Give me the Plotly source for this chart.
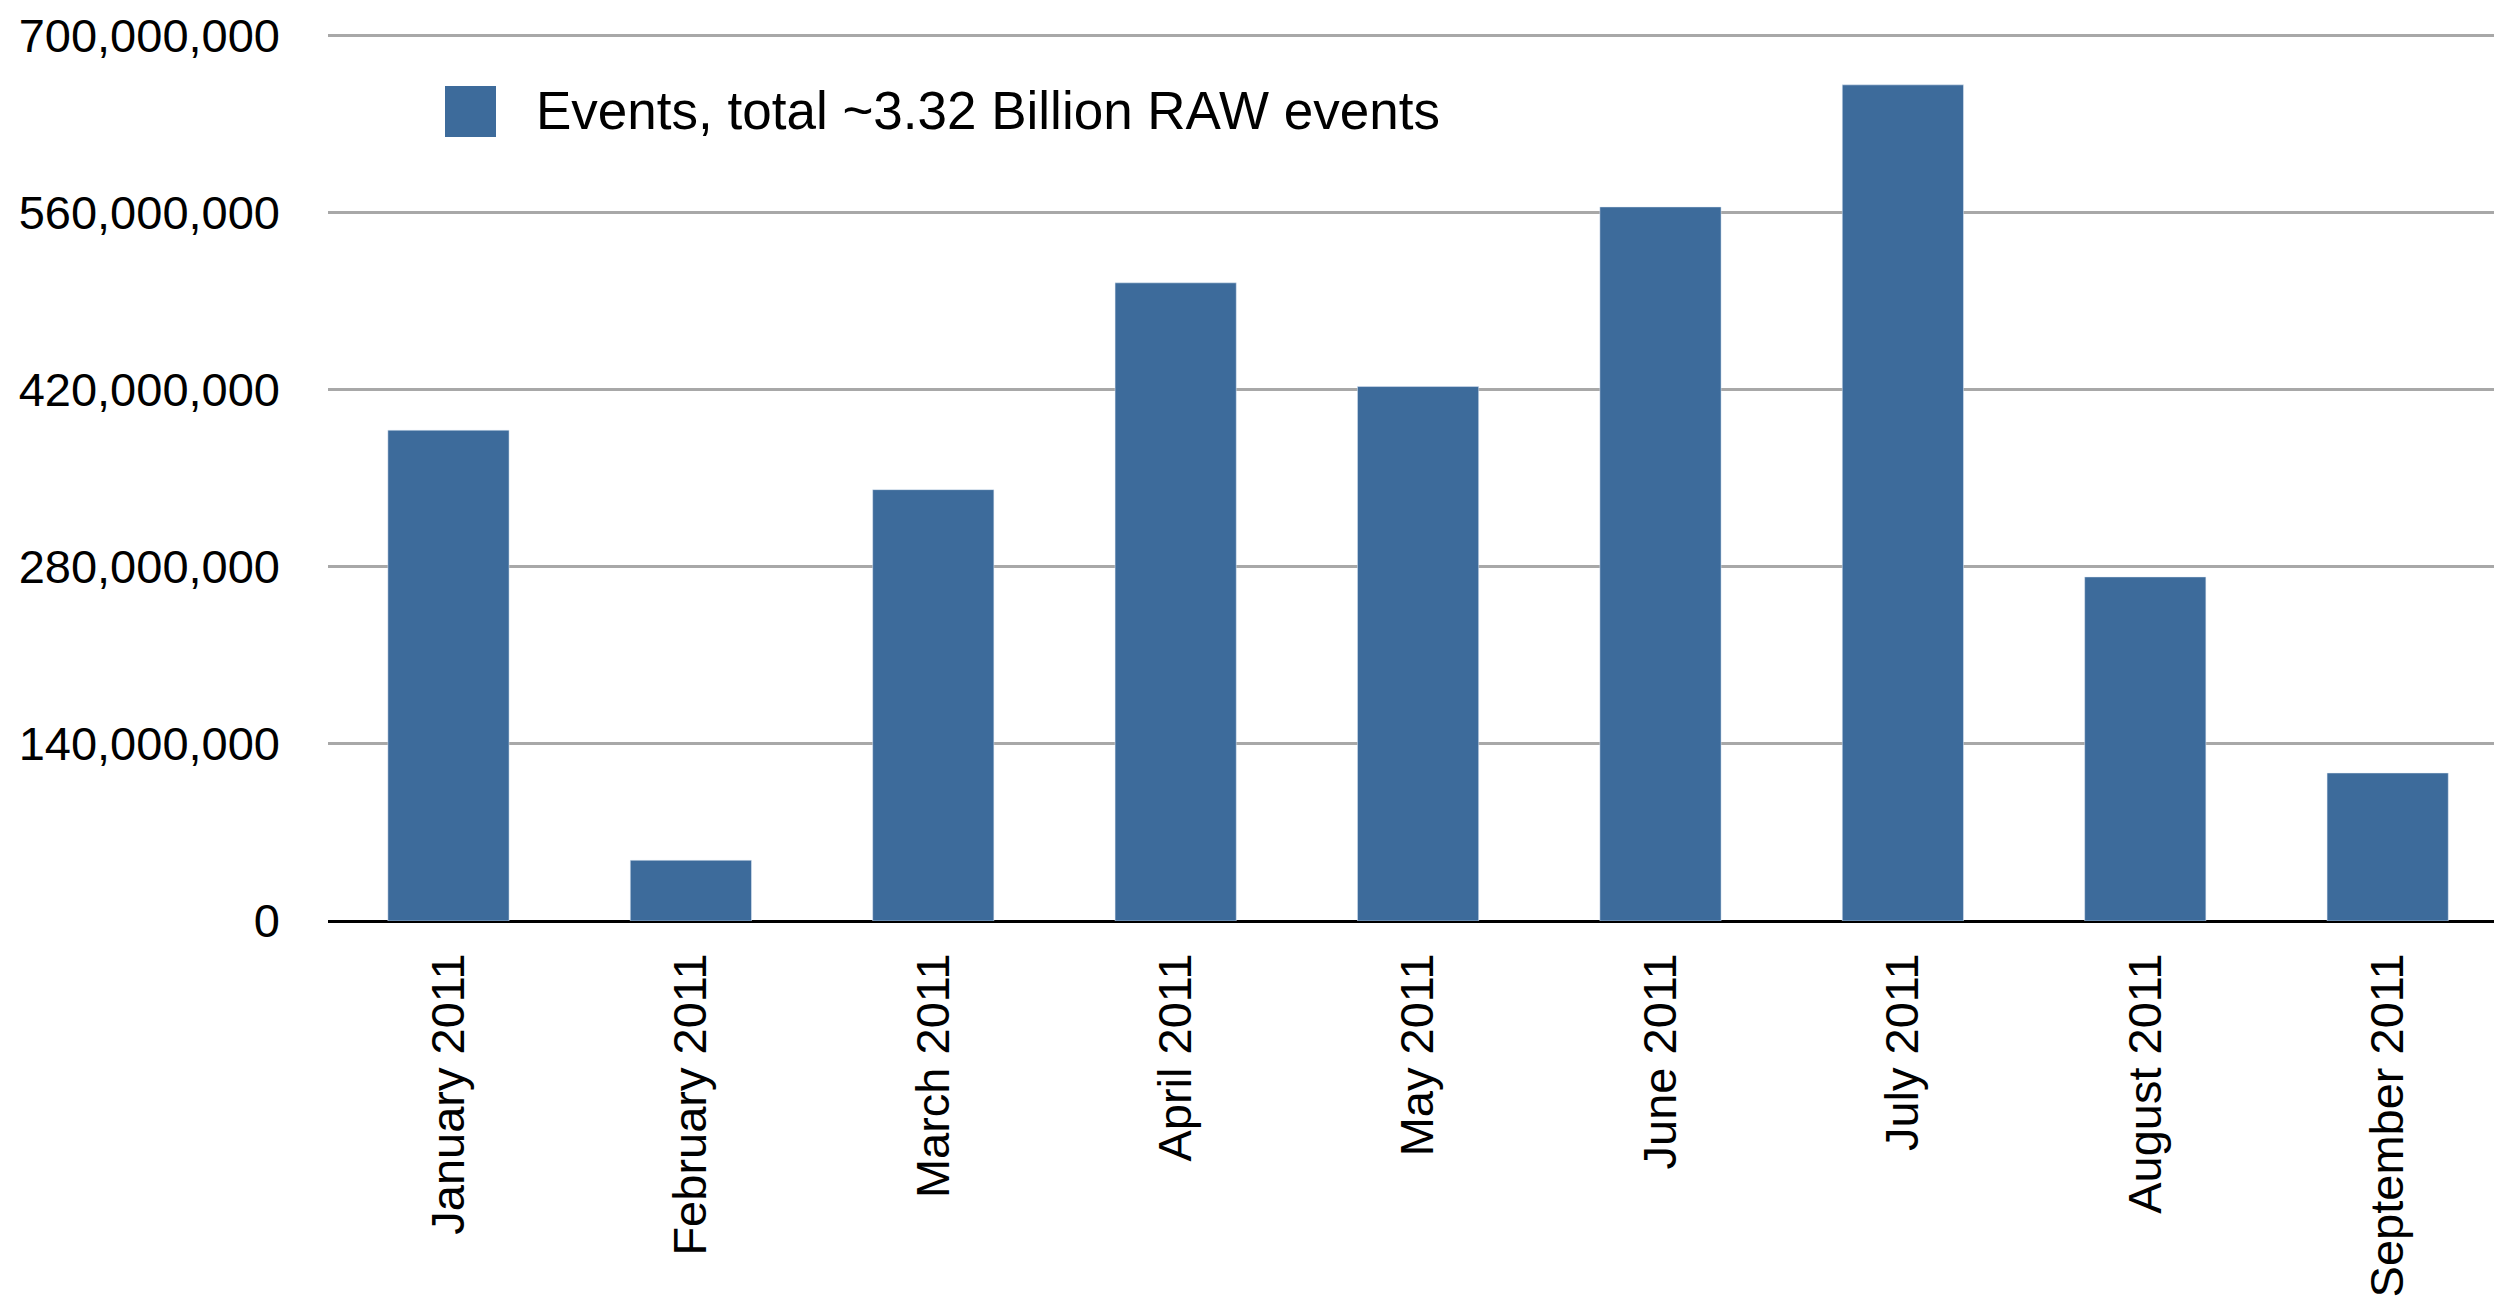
import plotly.graph_objects as go

months = ["January 2011", "February 2011", "March 2011", "April 2011", "May 2011",
          "June 2011", "July 2011", "August 2011", "September 2011"]
events = [388e6, 48e6, 341e6, 504.5e6, 422.5e6, 564.5e6, 661e6, 272e6, 117e6]
y_ticks = [0, 140e6, 280e6, 420e6, 560e6, 700e6]
legend_label = "Events, total ~3.32 Billion RAW events"

BAR = "#3d6b9b"
FONT = "Liberation Sans, Arial, Helvetica, sans-serif"

W, H = 2494, 1304
L, R, T, B = 328, 0, 33, 383
pw = W - L - R
ph = H - T - B

fig = go.Figure()
fig.add_trace(go.Bar(x=list(range(len(months))), y=events, marker_color=BAR,
                     width=0.5, name=legend_label, showlegend=False))

def px_x(x):
    return (x - L) / pw

def px_y(y):
    return (H - B - y) / ph

fig.add_shape(type="rect", xref="paper", yref="paper",
              x0=px_x(445), x1=px_x(496), y0=px_y(137), y1=px_y(86),
              fillcolor=BAR, line_width=0)
fig.add_annotation(xref="paper", yref="paper", x=px_x(534), y=px_y(111),
                   text=legend_label, showarrow=False, xanchor="left", yanchor="middle",
                   font=dict(family=FONT, size=53, color="black"))

fig.update_layout(
    width=W, height=H,
    margin=dict(l=L, r=R, t=T, b=B, pad=0),
    paper_bgcolor="white", plot_bgcolor="white",
    showlegend=False,
    bargap=0.5,
    font=dict(family=FONT, size=47, color="black"),
)
fig.update_xaxes(
    range=[-0.497, -0.497 + pw / 242.4],
    tickvals=list(range(len(months))), ticktext=months,
    tickangle=-90, showgrid=False, showline=False, zeroline=False,
    ticks="", ticklabelstandoff=22, automargin=False,
    tickfont=dict(family=FONT, size=47, color="black"),
)
fig.update_yaxes(
    range=[0, 702e6], tickvals=y_ticks, tickformat=",d",
    showgrid=True, gridcolor="#a8a8a8", gridwidth=3,
    zeroline=True, zerolinecolor="black", zerolinewidth=3,
    showline=False, ticks="", ticklabelstandoff=47, automargin=False,
    tickfont=dict(family=FONT, size=47, color="black"),
)

fig.write_html("out.html",
               config={"displayModeBar": False},
               post_script="document.body.style.margin='0';document.body.style.overflow='hidden';")
